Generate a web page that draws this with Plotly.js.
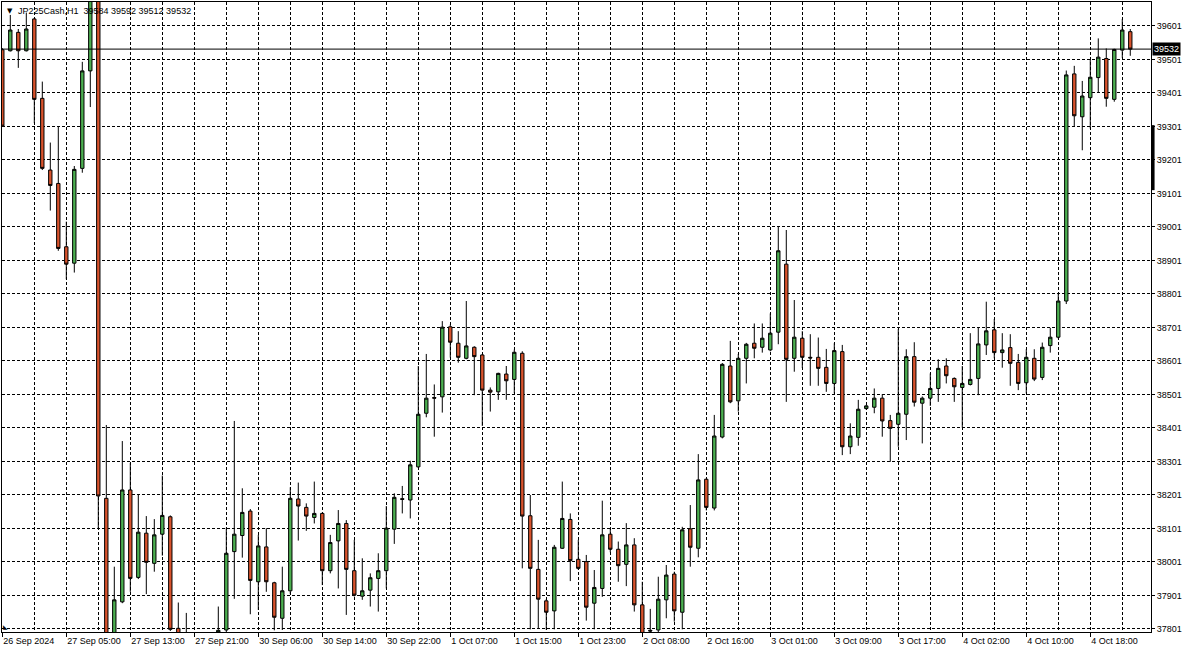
<!DOCTYPE html>
<html>
<head>
<meta charset="utf-8">
<script src="https://cdn.plot.ly/plotly-3.0.1.min.js"></script>
<style>
html,body{margin:0;padding:0;background:#fff;}
#chart{width:1188px;height:649px;}
</style>
</head>
<body>
<div id="chart"></div>
<script>
// Hourly bars (bar index = position on the time axis, weekend/night gaps removed)
const symbol = "JP225Cash,H1";
const opens = [39530,39527,39582,39527,39622,39385,39171,39131,38942,38893,
39176,39467,39740,38191,37720,37882,38216,37955,38087,37997,
38084,38136,37803,37760,37720,37700,37690,37750,37798,38032,
38080,38153,37942,38046,37939,37833,37915,38189,38164,38134,
38146,37975,38064,38116,37975,37899,37917,37952,37975,38099,
38190,38186,38285,38445,38492,38494,38703,38654,38609,38642,
38619,38514,38509,38562,38546,38624,38139,37979,37885,37855,
38042,38128,38009,38002,37878,37922,38084,38039,37994,38052,
37873,37797,37798,37888,37965,37851,38100,38042,38248,38162,
38374,38586,38482,38609,38654,38642,38634,38687,38890,38609,
38669,38612,38612,38582,38534,38629,38345,38373,38459,38463,
38490,38423,38412,38442,38614,38475,38490,38519,38586,38549,
38522,38531,38549,38649,38694,38626,38641,38597,38536,38609,
38552,38647,38672,38780,39458,39330,39387,39447,39504,39382,
39529,39584];
const highs = [39535,39634,39592,39641,39624,39435,39253,39302,39017,39183,
39494,39760,39800,38410,37987,38362,38297,38201,38138,38129,
38259,38140,37880,37849,37760,37750,37740,37868,38103,38422,
38221,38159,38082,38102,37942,37987,38224,38238,38176,38241,
38148,38082,38156,38126,38067,38012,37967,38027,38168,38206,
38228,38303,38586,38622,38531,38720,38710,38690,38780,38645,
38622,38522,38566,38586,38635,38630,38201,38067,37890,38052,
38241,38146,38067,38022,37977,38184,38102,38062,38117,38072,
37942,37861,37957,37992,37972,38106,38171,38323,38250,38440,
38595,38661,38622,38655,38713,38713,38743,39002,38992,38783,
38690,38681,38671,38637,38654,38649,38415,38485,38470,38519,
38502,38440,38696,38636,38657,38495,38564,38606,38609,38552,
38586,38684,38702,38778,38726,38684,38681,38622,38636,38636,
38656,38700,38803,39468,39482,39437,39502,39564,39534,39533,
39622,39592];
const lows = [39300,39525,39476,39525,39311,39171,39050,38930,38845,38865,
39163,39359,38102,37640,37700,37878,37912,37950,37905,37972,
38020,37795,37740,37700,37680,37660,37650,37740,37790,37891,
38014,37845,37858,37912,37797,37798,37905,38065,38094,38116,
37932,37967,37922,37843,37898,37888,37868,37853,37922,38055,
38146,38131,38282,38433,38375,38447,38611,38596,38606,38499,
38407,38450,38485,38485,38505,37982,37800,37803,37798,37800,
38040,37944,37978,37826,37800,37897,38030,37942,37929,37853,
37770,37780,37790,37833,37823,37800,37987,38015,38155,38155,
38370,38475,38450,38534,38609,38626,38630,38651,38479,38569,
38580,38527,38527,38509,38504,38320,38323,38348,38455,38445,
38375,38300,38345,38365,38465,38355,38467,38479,38534,38479,
38402,38528,38499,38619,38609,38581,38527,38514,38504,38541,
38544,38626,38668,38771,39302,39230,39295,39403,39360,39375,
39506,39512];
const closes = [39302,39589,39527,39592,39382,39176,39125,38937,38890,39173,
39467,39740,38198,37700,37888,38216,37952,38090,38000,38082,
38140,37800,37770,37720,37700,37690,37700,37797,38027,38084,
38149,37946,38049,37942,37836,37915,38191,38168,38138,38146,
37975,38059,38116,37979,37902,37915,37954,37975,38102,38194,
38188,38291,38442,38490,38490,38702,38657,38612,38646,38614,
38514,38508,38564,38542,38627,38138,37982,37890,37851,38045,
38131,38005,37982,37866,37925,38082,38039,37990,38052,37873,
37780,37795,37890,37962,37855,38097,38045,38246,38164,38377,
38591,38479,38609,38651,38639,38669,38684,38930,38606,38672,
38612,38610,38579,38534,38632,38345,38377,38457,38467,38490,
38422,38400,38445,38614,38478,38490,38519,38579,38557,38524,
38534,38546,38652,38691,38626,38634,38594,38534,38612,38547,
38642,38672,38780,39455,39333,39392,39448,39508,39385,39531,
39589,39532];

// Time-axis labels (every 8 bars) and price-axis ticks
const timeLabels = ["26 Sep 2024","27 Sep 05:00","27 Sep 13:00","27 Sep 21:00",
"30 Sep 06:00","30 Sep 14:00","30 Sep 22:00","1 Oct 07:00","1 Oct 15:00",
"1 Oct 23:00","2 Oct 08:00","2 Oct 16:00","3 Oct 01:00","3 Oct 09:00",
"3 Oct 17:00","4 Oct 02:00","4 Oct 10:00","4 Oct 18:00"];
const priceTicks = [37801,37901,38001,38101,38201,38301,38401,38501,38601,38701,
38801,38901,39001,39101,39201,39301,39401,39501,39601];

const barIdx = opens.map((_, i) => i);
const labelIdx = timeLabels.map((_, k) => k * 8);
const last = opens.length - 1;
const lastClose = closes[last];

const FONT = "Liberation Sans, Arial, sans-serif";
const GRIDDASH = "3px,2px";

const trace = {
  type: "candlestick",
  x: barIdx, open: opens, high: highs, low: lows, close: closes,
  increasing: {line: {color: "#000000", width: 1}, fillcolor: "#4caf50"},
  decreasing: {line: {color: "#000000", width: 1}, fillcolor: "#d9532c"},
  whiskerwidth: 0,
  hoverinfo: "skip"
};

const layout = {
  width: 1188, height: 649,
  margin: {l: 2, r: 37, t: 2, b: 17, pad: 0},
  paper_bgcolor: "#ffffff", plot_bgcolor: "#ffffff",
  showlegend: false, hovermode: false,
  boxgap: 0.4,
  font: {family: FONT, size: 9, color: "#000000"},
  xaxis: {
    type: "linear",
    range: [-0.0375, 143.59],
    rangeslider: {visible: false},
    tickmode: "array", tickvals: labelIdx, ticktext: timeLabels,
    ticks: "outside", ticklen: 4, tickcolor: "#000", tickwidth: 1,
    ticklabelposition: "outside right",
    showgrid: true, gridcolor: "#000000", gridwidth: 1, griddash: GRIDDASH,
    minor: {tick0: 0, dtick: 4, showgrid: true, gridcolor: "#000000", gridwidth: 1, griddash: GRIDDASH, ticks: ""},
    showline: true, linecolor: "#000000", linewidth: 1, mirror: true,
    zeroline: false, fixedrange: true,
    tickfont: {family: FONT, size: 9, color: "#000"}
  },
  yaxis: {
    side: "right",
    range: [37792, 39672.6],
    tickmode: "array", tickvals: priceTicks, ticktext: priceTicks.map(String),
    ticks: "outside", ticklen: 3, tickcolor: "#000",
    showgrid: true, gridcolor: "#000000", gridwidth: 1, griddash: GRIDDASH,
    showline: true, linecolor: "#000000", linewidth: 1, mirror: true,
    zeroline: false, fixedrange: true,
    tickfont: {family: FONT, size: 9, color: "#000"}
  },
  shapes: [
    {type: "line", xref: "paper", x0: 0, x1: 1, yref: "y", y0: lastClose, y1: lastClose,
     line: {color: "#000000", width: 1}, layer: "above"},
    {type: "line", xref: "paper", x0: 1.0018, x1: 1.0018, yref: "y", y0: 39111, y1: 39305,
     line: {color: "#000000", width: 3}}
  ],
  annotations: [
    {xref: "paper", yref: "paper", x: 0, y: 1, xanchor: "left", yanchor: "top",
     xshift: 3, yshift: -3, text: "▼", showarrow: false,
     font: {family: "DejaVu Sans, sans-serif", size: 7, color: "#000"}},
    {xref: "paper", yref: "paper", x: 0, y: 1, xanchor: "left", yanchor: "top",
     xshift: 14, yshift: -2, showarrow: false,
     text: symbol + "  " + [opens[last], highs[last], lows[last], closes[last]].join(" "),
     font: {family: FONT, size: 9, color: "#000"}},
    {xref: "paper", yref: "y", x: 1, y: lastClose, xanchor: "left", yanchor: "middle",
     xshift: 1, showarrow: false, text: String(lastClose), bgcolor: "#000000",
     borderpad: 1, font: {family: FONT, size: 9, color: "#ffffff"}},
    {xref: "paper", yref: "paper", x: 0, y: 0, xanchor: "left", yanchor: "bottom",
     xshift: -1, yshift: 0, showarrow: false, text: "◣",
     font: {family: "DejaVu Sans, sans-serif", size: 6, color: "#000"}}
  ]
};

Plotly.newPlot("chart", [trace], layout, {displayModeBar: false, staticPlot: true});
</script>
</body>
</html>
